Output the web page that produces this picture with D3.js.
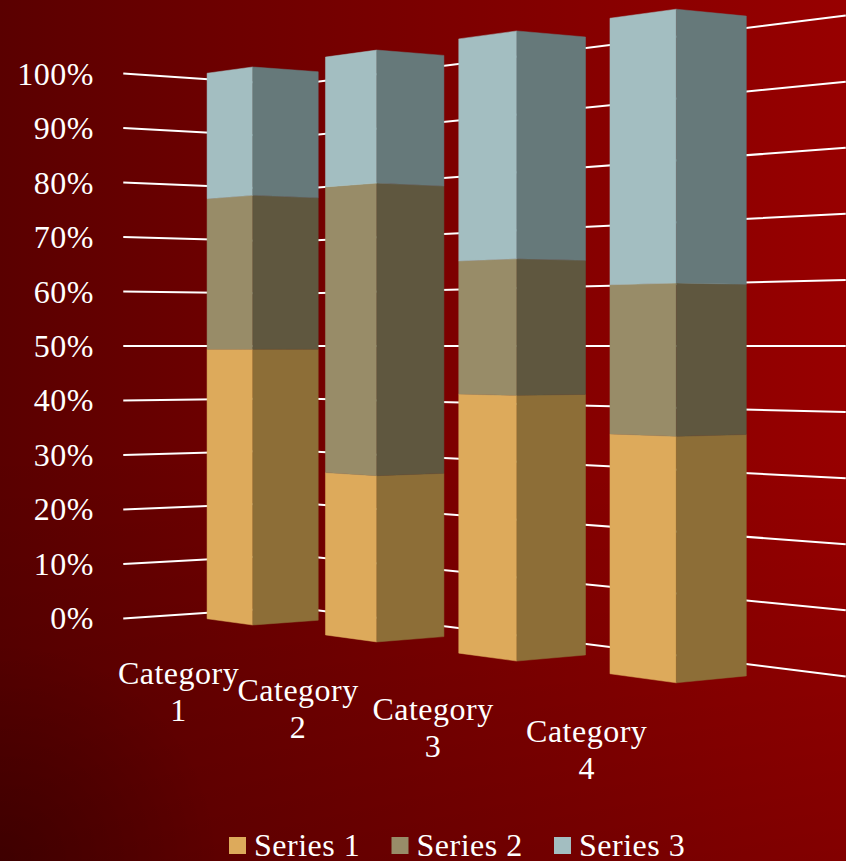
<!DOCTYPE html>
<html>
<head>
<meta charset="utf-8">
<script src="https://cdn.jsdelivr.net/npm/d3@7"></script>
<style>
  html, body { margin: 0; padding: 0; background: #700000; }
  svg { display: block; }
  text { font-family: "Liberation Serif", serif; fill: #fff; letter-spacing: 0.5px; }
</style>
</head>
<body>
<svg id="chart" width="846" height="861"></svg>
<script>
var categories = ["Category 1", "Category 2", "Category 3", "Category 4"];
var series1 = [4.3, 2.5, 3.5, 4.5];
var series2 = [2.4, 4.4, 1.8, 2.8];
var series3 = [2, 2, 3, 5];
var seriesNames = ["Series 1", "Series 2", "Series 3"];
var pctTicks = [0, 10, 20, 30, 40, 50, 60, 70, 80, 90, 100];
var frontColors = ["#DDAA5B", "#988C68", "#A3BEC1"];
var sideColors = ["#8D6E37", "#5F573F", "#66797A"];

var W = 846, H = 861;
var svg = d3.select("#chart");

// background: mostly left to right, with a darker bottom edge
var defs = svg.append("defs");
var bg = defs.append("linearGradient").attr("id", "bg")
  .attr("gradientUnits", "userSpaceOnUse")
  .attr("x1", 0).attr("y1", 0).attr("x2", W).attr("y2", 0);
bg.append("stop").attr("offset", "0%").attr("stop-color", "#5a0000");
bg.append("stop").attr("offset", "25%").attr("stop-color", "#6c0000");
bg.append("stop").attr("offset", "50%").attr("stop-color", "#7b0000");
bg.append("stop").attr("offset", "100%").attr("stop-color", "#980000");
var shade = defs.append("linearGradient").attr("id", "shade")
  .attr("gradientUnits", "userSpaceOnUse")
  .attr("x1", 0).attr("y1", 450).attr("x2", 0).attr("y2", H);
shade.append("stop").attr("offset", "0%").attr("stop-color", "#000").attr("stop-opacity", 0);
shade.append("stop").attr("offset", "100%").attr("stop-color", "#000").attr("stop-opacity", 0.14);
var cornerShade = defs.append("radialGradient").attr("id", "cornerShade")
  .attr("gradientUnits", "userSpaceOnUse")
  .attr("cx", 0).attr("cy", H).attr("r", 220);
cornerShade.append("stop").attr("offset", "0%").attr("stop-color", "#000").attr("stop-opacity", 0.2);
cornerShade.append("stop").attr("offset", "100%").attr("stop-color", "#000").attr("stop-opacity", 0);
svg.append("rect").attr("width", W).attr("height", H).attr("fill", "url(#bg)");
svg.append("rect").attr("width", W).attr("height", H).attr("fill", "url(#shade)");
svg.append("rect").attr("width", W).attr("height", H).attr("fill", "url(#cornerShade)");

// camera: world units are percent, the picture was measured to fit this
var focal = 1000, cx = 423, cy = 346;
var pct = d3.scaleLinear().domain([0, 1]).range([-50, 50]);
var rows = d3.scaleLinear().domain([0, 3]).range([0, 3]);

function project(wx, wh, depth) {
  return [cx + focal * wx / depth, cy - focal * wh / depth];
}

// near corner of bar i, then walk along the category and depth axes
var nearX = -30.5, nearD = 179.2;
var catAxis = [22.7, -10.25], depthAxis = [11.4, 3.1];
var barWidth = 0.4;

function corner(i, a, b, v) {
  var k = rows(i);
  var wx = nearX + k * catAxis[0] + a * catAxis[0] + b * depthAxis[0];
  var d = nearD + k * catAxis[1] + a * catAxis[1] + b * depthAxis[1];
  return project(wx, pct(v), d);
}

var line = d3.line();

// walls: left wall runs along the depth axis, back wall along the categories
var wallFront = { x: -55, d: 183.5 };
var wallT = 2.61, wallS = 3.93;
var wallCorner = { x: wallFront.x + wallT * depthAxis[0], d: wallFront.d + wallT * depthAxis[1] };
var wallEnd = { x: wallCorner.x + wallS * catAxis[0], d: wallCorner.d + wallS * catAxis[1] };

svg.append("g").selectAll("path")
  .data(pctTicks)
  .join("path")
  .attr("d", function(t) {
    var v = t / 100;
    return line([
      project(wallFront.x, pct(v), wallFront.d),
      project(wallCorner.x, pct(v), wallCorner.d),
      project(wallEnd.x, pct(v), wallEnd.d)
    ]);
  })
  .attr("fill", "none")
  .attr("stroke", "#fff")
  .attr("stroke-width", 2);

// tick labels
svg.append("g").selectAll("text")
  .data(pctTicks)
  .join("text")
  .attr("x", 94)
  .attr("y", function(t) { return project(wallFront.x, pct(t / 100), wallFront.d)[1] + 11; })
  .attr("text-anchor", "end")
  .attr("font-size", 32)
  .text(function(t) { return t + "%"; });

// stacked shares
var table = categories.map(function(c, i) {
  return { cat: c, s0: series1[i], s1: series2[i], s2: series3[i] };
});
var stacked = d3.stack().keys(["s0", "s1", "s2"]).offset(d3.stackOffsetExpand)(table);

var bars = svg.append("g");
categories.forEach(function(c, i) {
  stacked.forEach(function(layer, s) {
    var lo = layer[i][0], hi = layer[i][1];
    // front face, left of the near edge
    bars.append("path")
      .attr("d", line([corner(i, -barWidth, 0, lo), corner(i, 0, 0, lo), corner(i, 0, 0, hi), corner(i, -barWidth, 0, hi)]) + "Z")
      .attr("fill", frontColors[s])
      .attr("stroke", frontColors[s])
      .attr("stroke-width", 0.5);
    // side face, right of the near edge
    bars.append("path")
      .attr("d", line([corner(i, 0, 0, lo), corner(i, 0, 1, lo), corner(i, 0, 1, hi), corner(i, 0, 0, hi)]) + "Z")
      .attr("fill", sideColors[s])
      .attr("stroke", sideColors[s])
      .attr("stroke-width", 0.5);
  });
});

// category labels hang below the bar, two lines each
categories.forEach(function(c, i) {
  var p = project(nearX + rows(i) * catAxis[0] - 13.3, pct(0), nearD + rows(i) * catAxis[1]);
  var parts = c.split(" ");
  var label = svg.append("text").attr("text-anchor", "middle").attr("font-size", 32);
  parts.forEach(function(part, j) {
    label.append("tspan")
      .attr("x", p[0])
      .attr("y", p[1] + 59 + j * 37)
      .text(part);
  });
});

// legend
var legendX = d3.scalePoint().domain(seriesNames).range([229, 554]);
var legend = svg.append("g").selectAll("g")
  .data(seriesNames)
  .join("g")
  .attr("transform", function(d) { return "translate(" + legendX(d) + ",0)"; });
legend.append("rect")
  .attr("y", 837).attr("width", 17).attr("height", 17)
  .attr("fill", function(d, i) { return frontColors[i]; });
legend.append("text")
  .attr("x", 25).attr("y", 856)
  .attr("font-size", 32)
  .text(function(d) { return d; });
</script>
</body>
</html>
